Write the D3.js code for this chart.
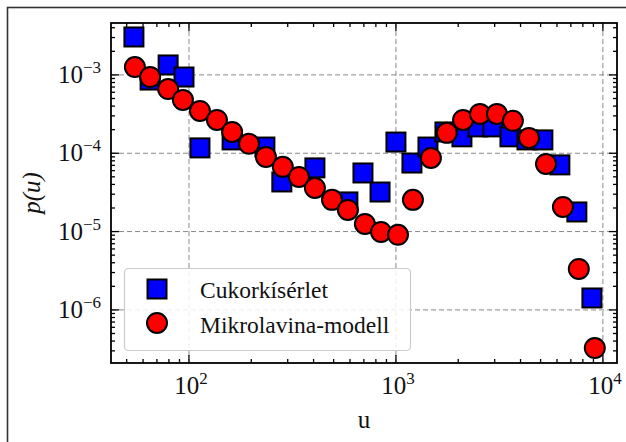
<!DOCTYPE html>
<html>
<head>
<meta charset="utf-8">
<script src="https://cdn.jsdelivr.net/npm/d3@7"></script>
<style>
  body { margin: 0; background: #fff; }
  svg text { font-family: "Liberation Serif", "Times New Roman", serif; fill: #111; }
</style>
</head>
<body>
<div id="chart"></div>
<script>
// Cukorkísérlet (squares)
const sugarU = [54.2, 64.9, 79.3, 94.6, 113, 161.6, 232.7, 281, 406, 586, 693, 838,
  1000, 1195, 1428, 1725, 2084, 2490, 2943, 3556, 4298, 5129, 6196, 7485, 8851];
const sugarP = [3.05e-3, 8.6e-4, 1.34e-3, 9.4e-4, 1.17e-4, 1.48e-4, 1.2e-4, 4.3e-5, 6.5e-5, 2.39e-5, 5.6e-5, 3.2e-5,
  1.39e-4, 7.5e-5, 1.2e-4, 1.87e-4, 1.62e-4, 2.17e-4, 2.17e-4, 1.62e-4, 1.48e-4, 1.48e-4, 7.1e-5, 1.78e-5, 1.42e-6];

// Mikrolavina-modell (circles)
const modelU = [54.8, 64.9, 79.3, 93.5, 113, 136.5, 161.6, 195, 235.5, 284, 340, 406, 491, 586, 708, 847, 1023,
  1208, 1476, 1762, 2110, 2547, 3076, 3674, 4393, 5310, 6410, 7650, 9140];
const modelP = [1.26e-3, 9.4e-4, 6.6e-4, 4.8e-4, 3.47e-4, 2.66e-4, 1.87e-4, 1.32e-4, 8.97e-5, 6.7e-5, 4.98e-5, 3.6e-5,
  2.54e-5, 1.89e-5, 1.25e-5, 9.9e-6, 9.1e-6, 2.54e-5, 8.7e-5, 1.82e-4, 2.66e-4, 3.18e-4, 3.18e-4, 2.59e-4,
  1.57e-4, 7.3e-5, 2.06e-5, 3.33e-6, 3.26e-7];

const seriesNames = ["Cukorkísérlet", "Mikrolavina-modell"];
const xMajor = [100, 1000, 10000];
const xMajorExp = ["2", "3", "4"];
const yMajor = [1e-3, 1e-4, 1e-5, 1e-6];
const yMajorExp = ["−3", "−4", "−5", "−6"];

function renderChart() {
    const width = 626, height = 442;
    const left = 111, right = 617, top = 23, bottom = 363;

    const svg = d3.select("#chart").append("svg")
        .attr("width", width)
        .attr("height", height);

    // outer frame
    svg.append("rect")
        .attr("x", 7.5).attr("y", 7.5)
        .attr("width", 700).attr("height", 700)
        .attr("fill", "none")
        .attr("stroke", "#333")
        .attr("stroke-width", 1.6);

    const x = d3.scaleLog().domain([42, 11700]).range([left, right]);
    const y = d3.scaleLog().domain([2.1e-7, 4.6e-3]).range([bottom, top]);

    const minorX = [];
    [10, 100, 1000, 10000].forEach((d) => {
        for (let k = 2; k <= 9; k++) minorX.push(d * k);
    });
    const minorY = [];
    [1e-7, 1e-6, 1e-5, 1e-4, 1e-3].forEach((d) => {
        for (let k = 2; k <= 9; k++) minorY.push(d * k);
    });
    const inX = (v) => v >= x.domain()[0] && v <= x.domain()[1];
    const inY = (v) => v >= y.domain()[0] && v <= y.domain()[1];

    // grid
    const grid = svg.append("g")
        .attr("stroke", "#8a8a8a")
        .attr("stroke-width", 1)
        .attr("stroke-dasharray", "5,3");
    grid.selectAll("line.gx")
        .data(xMajor.filter(inX))
        .join("line")
        .attr("x1", (d) => x(d)).attr("x2", (d) => x(d))
        .attr("y1", top).attr("y2", bottom);
    grid.selectAll("line.gy")
        .data(yMajor.filter(inY))
        .join("line")
        .attr("y1", (d) => y(d)).attr("y2", (d) => y(d))
        .attr("x1", left).attr("x2", right);

    // squares
    const sq = 19;
    svg.append("g")
        .selectAll("rect")
        .data(sugarU.map((u, i) => [u, sugarP[i]]))
        .join("rect")
        .attr("x", (d) => x(d[0]) - sq / 2)
        .attr("y", (d) => y(d[1]) - sq / 2)
        .attr("width", sq).attr("height", sq)
        .attr("fill", "#0000ff")
        .attr("stroke", "#000")
        .attr("stroke-width", 2);

    // circles
    svg.append("g")
        .selectAll("circle")
        .data(modelU.map((u, i) => [u, modelP[i]]))
        .join("circle")
        .attr("cx", (d) => x(d[0]))
        .attr("cy", (d) => y(d[1]))
        .attr("r", 10)
        .attr("fill", "#ff0000")
        .attr("stroke", "#000")
        .attr("stroke-width", 2);

    // axes with inward ticks
    const tickG = svg.append("g").attr("stroke", "#000");
    const addTicks = (vals, len) => {
        vals.filter(inX).forEach((v) => {
            tickG.append("line").attr("x1", x(v)).attr("x2", x(v)).attr("y1", bottom).attr("y2", bottom - len).attr("stroke-width", 1.3);
            tickG.append("line").attr("x1", x(v)).attr("x2", x(v)).attr("y1", top).attr("y2", top + len).attr("stroke-width", 1.3);
        });
    };
    addTicks(xMajor, 8);
    addTicks(minorX, 4);
    const addYTicks = (vals, len) => {
        vals.filter(inY).forEach((v) => {
            tickG.append("line").attr("y1", y(v)).attr("y2", y(v)).attr("x1", left).attr("x2", left + len).attr("stroke-width", 1.3);
            tickG.append("line").attr("y1", y(v)).attr("y2", y(v)).attr("x1", right).attr("x2", right - len).attr("stroke-width", 1.3);
        });
    };
    addYTicks(yMajor, 8);
    addYTicks(minorY, 4);

    svg.append("rect")
        .attr("x", left).attr("y", top)
        .attr("width", right - left).attr("height", bottom - top)
        .attr("fill", "none")
        .attr("stroke", "#000")
        .attr("stroke-width", 1.8);

    // tick labels
    xMajor.forEach((v, i) => {
        const t = svg.append("text")
            .attr("x", x(v) + 2)
            .attr("y", 394)
            .attr("text-anchor", "middle")
            .attr("font-size", 25);
        t.append("tspan").text("10");
        t.append("tspan").attr("dy", -10).attr("font-size", 17).text(xMajorExp[i]);
    });
    yMajor.forEach((v, i) => {
        const t = svg.append("text")
            .attr("x", 101)
            .attr("y", y(v) + 8)
            .attr("text-anchor", "end")
            .attr("font-size", 25);
        t.append("tspan").text("10");
        t.append("tspan").attr("dy", -10).attr("font-size", 17).text(yMajorExp[i]);
    });

    // axis labels
    svg.append("text")
        .attr("x", (left + right) / 2)
        .attr("y", 428)
        .attr("text-anchor", "middle")
        .attr("font-size", 25)
        .text("u");
    svg.append("text")
        .attr("transform", `translate(40,${(top + bottom) / 2}) rotate(-90)`)
        .attr("text-anchor", "middle")
        .attr("font-size", 25)
        .attr("font-style", "italic")
        .text("p(u)");

    // legend
    const lg = svg.append("g");
    lg.append("rect")
        .attr("x", 124.5).attr("y", 268.5)
        .attr("width", 286).attr("height", 82)
        .attr("rx", 4)
        .attr("fill", "#fff")
        .attr("fill-opacity", 0.85)
        .attr("stroke", "#cccccc")
        .attr("stroke-width", 1.2);
    lg.append("rect")
        .attr("x", 157 - sq / 2).attr("y", 289 - sq / 2)
        .attr("width", sq).attr("height", sq)
        .attr("fill", "#0000ff").attr("stroke", "#000").attr("stroke-width", 2);
    lg.append("circle")
        .attr("cx", 157).attr("cy", 323).attr("r", 10)
        .attr("fill", "#ff0000").attr("stroke", "#000").attr("stroke-width", 2);
    lg.append("text").attr("x", 200).attr("y", 298).attr("font-size", 23.5).text(seriesNames[0]);
    lg.append("text").attr("x", 200).attr("y", 333).attr("font-size", 23.5).text(seriesNames[1]);
}

renderChart();
</script>
</body>
</html>
